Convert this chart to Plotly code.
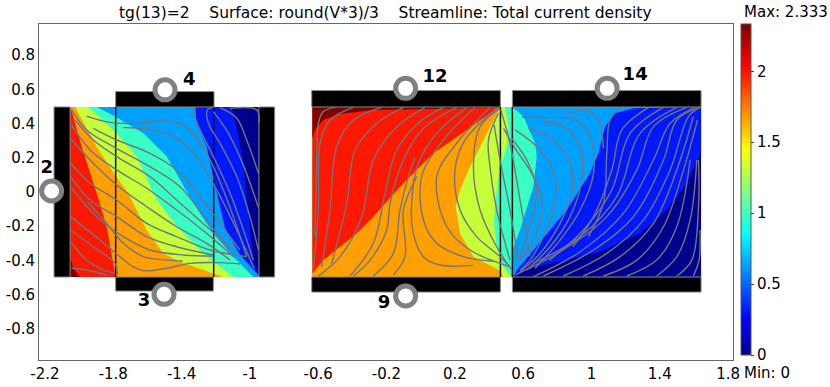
"""
Potential map and streamlines of the two Hall bar devices
"""

import plotly.graph_objects as go

# axis ticks
X_TICKS = [-2.2, -1.8, -1.4, -1, -0.6, -0.2, 0.2, 0.6, 1, 1.4, 1.8]
X_LABELS = ["-2.2", "-1.8", "-1.4", "-1", "-0.6", "-0.2", "0.2", "0.6", "1", "1.4", "1.8"]
Y_TICKS = [-0.8, -0.6, -0.4, -0.2, 0, 0.2, 0.4, 0.6, 0.8]
Y_LABELS = ["-0.8", "-0.6", "-0.4", "-0.2", "0", "0.2", "0.4", "0.6", "0.8"]
BAR_TICKS = [0, 0.5, 1, 1.5, 2]
BAR_LABELS = ["0", "0.5", "1", "1.5", "2"]
V_MIN = 0
V_MAX = 2.333

# level colours of round(V*3)/3
NAVY = "#00008f"
BLUE = "#0018ff"
AZURE = "#00a0ff"
AQUA = "#38ffc4"
LIME = "#c4ff38"
ORANGE = "#ffa000"
RED = "#ff1800"
DARK_RED = "#800000"

JET = [
    [0, "#00008f"], [0.111, "#0000ff"], [0.365, "#00ffff"],
    [0.62, "#ffff00"], [0.873, "#ff0000"], [1, "#800000"],
]

# left device, each level band is closed along the left edge
LEFT_BASE = ([-2.053, -0.947, -0.947, -2.053], [0.497, 0.497, -0.497, -0.497])
LEFT_BLUE = ([-1.107, -1.077, -1.039, -1.019, -1.0, -0.98, -0.947, -2.053, -2.053],
             [0.497, 0.372, 0.177, -0.018, -0.212, -0.407, -0.497, -0.497, 0.497])
LEFT_AZURE = ([-1.321, -1.312, -1.253, -1.214, -1.146, -1.058, -0.95, -0.947, -2.053, -2.053],
              [0.497, 0.402, 0.265, 0.08, -0.21, -0.368, -0.485, -0.497, -0.497, 0.497])
LEFT_AQUA = ([-1.897, -1.79, -1.624, -1.487, -1.331, -1.214, -1.097, -0.98, -2.053, -2.053],
             [0.497, 0.441, 0.343, 0.207, -0.066, -0.242, -0.378, -0.497, -0.497, 0.497])
LEFT_LIME = ([-1.946, -1.79, -1.663, -1.546, -1.409, -1.253, -1.097, -2.053, -2.053],
             [0.497, 0.353, 0.207, -0.047, -0.222, -0.378, -0.497, -0.497, 0.497])
LEFT_ORANGE = ([-2.024, -1.897, -1.79, -1.712, -1.604, -1.507, -1.409, -1.214, -1.156, -2.053, -2.053],
               [0.497, 0.265, 0.099, -0.008, -0.222, -0.359, -0.407, -0.476, -0.497, -0.497, 0.497])
LEFT_RED = ([-2.05, -1.985, -1.897, -1.839, -1.79, -1.784, -2.053, -2.053],
            [0.497, 0.265, -0.008, -0.203, -0.476, -0.497, -0.497, 0.497])
LEFT_DARK = ([-2.053, -2.034, -1.995, -2.053], [-0.378, -0.446, -0.497, -0.497])

# middle and right devices share one field
MAIN_BASE = ([-0.634, 1.642, 1.642, -0.634], [0.497, 0.497, -0.497, -0.497])
MAIN_BLUE = ([1.642, 1.558, 1.441, 1.285, 1.051, 0.816, 0.621, 0.553, 0.537, -0.634, -0.634, 1.642],
             [0.226, 0.051, -0.105, -0.242, -0.349, -0.407, -0.446, -0.485, -0.497, -0.497, 0.497, 0.497])
MAIN_AZURE = ([1.529, 1.246, 1.139, 1.08, 1.041, 0.992, 0.855, 0.66, 0.563, 0.543, -0.634, -0.634],
              [0.497, 0.489, 0.46, 0.382, 0.226, 0.109, -0.105, -0.339, -0.456, -0.497, -0.497, 0.497])
MAIN_AQUA = ([0.537, 0.537, 0.582, 0.66, 0.68, 0.67, 0.602, 0.537, -0.634, -0.634],
             [-0.497, -0.339, -0.222, 0.031, 0.207, 0.285, 0.441, 0.497, 0.497, -0.497])
MAIN_LIME = ([0.494, 0.514, 0.504, 0.465, 0.436, 0.43, 0.445, 0.484, 0.533, -0.634, -0.634],
             [0.497, 0.382, 0.265, 0.148, -0.066, -0.183, -0.32, -0.437, -0.497, -0.497, 0.497])
MAIN_ORANGE = ([0.467, 0.387, 0.289, 0.231, 0.205, 0.231, 0.309, 0.467, 0.484, -0.634, -0.634],
               [0.497, 0.343, 0.148, 0.012, -0.086, -0.242, -0.378, -0.46, -0.497, -0.497, 0.497])
MAIN_RED = ([0.467, 0.406, 0.27, 0.074, -0.121, -0.277, -0.375, -0.57, -0.634, -0.634],
            [0.497, 0.46, 0.363, 0.226, 0.031, -0.144, -0.242, -0.398, -0.476, 0.497])
MAIN_DARK = ([-0.634, -0.619, -0.57, -0.472, -0.277, 0.016, 0.445, 0.467, -0.634],
             [0.314, 0.363, 0.421, 0.456, 0.48, 0.485, 0.493, 0.497, 0.497])

BANDS = [
    (LEFT_BASE, NAVY), (LEFT_BLUE, BLUE), (LEFT_AZURE, AZURE), (LEFT_AQUA, AQUA),
    (LEFT_LIME, LIME), (LEFT_ORANGE, ORANGE), (LEFT_RED, RED), (LEFT_DARK, DARK_RED),
    (MAIN_BASE, NAVY), (MAIN_BLUE, BLUE), (MAIN_AZURE, AZURE), (MAIN_AQUA, AQUA),
    (MAIN_LIME, LIME), (MAIN_ORANGE, ORANGE), (MAIN_RED, RED), (MAIN_DARK, DARK_RED),
]

# black contacts: x0, x1, y0, y1
CONTACTS = [
    (-2.147, -2.053, -0.497, 0.497),
    (-0.947, -0.855, -0.497, 0.497),
    (-1.786, -1.21, 0.497, 0.587),
    (-1.786, -1.214, -0.579, -0.497),
    (-0.638, 0.467, 0.497, 0.593),
    (-0.638, 0.467, -0.585, -0.497),
    (0.537, 1.642, 0.497, 0.593),
    (0.537, 1.642, -0.585, -0.497),
]

# device borders drawn as thin black lines
DIVIDER_X = [-1.786, -1.212, 0.467, 0.537]

# contact rings and their numbers
RING_X = [-2.161, -1.497, -1.503, -0.088, -0.088, 1.092]
RING_Y = [0.006, 0.597, -0.598, 0.606, -0.608, 0.606]
LABEL_TEXT = ["2", "4", "3", "12", "9", "14"]
LABEL_X = [-2.19, -1.355, -1.62, 0.084, -0.214, 1.256]
LABEL_Y = [0.138, 0.651, -0.641, 0.67, -0.651, 0.68]

STREAMLINES_LEFT = [
    ([-1.956, -1.819, -1.644, -1.507, -1.4, -1.312, -1.214, -1.097, -1.019],
     [0.444, 0.407, 0.402, 0.415, 0.398, 0.314, 0.148, -0.144, -0.378]),
    ([-1.741, -1.566, -1.429, -1.312, -1.195, -1.077, -0.976],
     [0.376, 0.363, 0.314, 0.207, 0.012, -0.222, -0.446]),
    ([-1.321, -1.321, -1.292, -1.214, -1.116, -1.038, -0.98],
     [0.497, 0.441, 0.363, 0.207, -0.008, -0.222, -0.398]),
    ([-1.214, -1.249, -1.243, -1.175, -1.077, -1.0, -0.95],
     [0.495, 0.48, 0.402, 0.285, 0.09, -0.144, -0.339]),
    ([-1.214, -1.13, -1.04, -0.95], [0.47, 0.35, 0.16, -0.09]),
    ([-1.175, -1.077, -1.019, -0.95], [0.493, 0.431, 0.304, 0.109]),
    ([-1.116, -0.96, -0.947], [0.489, 0.48, 0.402]),
    ([-2.044, -1.956, -1.8, -1.585, -1.409, -1.253, -1.116],
     [0.48, 0.363, 0.265, 0.148, 0.031, -0.164, -0.339]),
    ([-1.917, -1.78, -1.585, -1.429, -1.292, -1.175, -1.058],
     [0.372, 0.304, 0.226, 0.129, -0.027, -0.183, -0.339]),
    ([-2.024, -1.917, -1.78, -1.585, -1.429, -1.253, -1.097],
     [0.421, 0.304, 0.207, 0.09, -0.047, -0.203, -0.339]),
    ([-2.044, -1.936, -1.78, -1.604, -1.429, -1.253, -1.097],
     [0.392, 0.246, 0.129, 0.022, -0.105, -0.242, -0.378]),
    ([-2.05, -1.936, -1.78, -1.604, -1.429, -1.253, -1.116],
     [0.314, 0.187, 0.041, -0.086, -0.203, -0.3, -0.398]),
    ([-2.05, -1.936, -1.78, -1.604, -1.429, -1.234, -1.019],
     [0.168, 0.051, -0.047, -0.183, -0.261, -0.339, -0.378]),
    ([-2.05, -1.936, -1.78, -1.604, -1.429, -1.214],
     [0.09, -0.047, -0.144, -0.261, -0.32, -0.368]),
    ([-2.05, -1.897, -1.741, -1.585, -1.39, -1.214],
     [0.031, -0.144, -0.261, -0.339, -0.368, -0.374]),
    ([-1.952, -1.839, -1.741, -1.624, -1.487, -1.394],
     [-0.056, -0.183, -0.3, -0.378, -0.398, -0.403]),
    ([-2.05, -1.878, -1.761, -1.683, -1.624, -1.487, -1.351, -1.175, -1.058],
     [-0.144, -0.281, -0.378, -0.437, -0.46, -0.446, -0.417, -0.413, -0.421]),
    ([-2.05, -1.956, -1.878, -1.79], [-0.29, -0.398, -0.446, -0.476]),
    ([-2.05, -1.917, -1.79, -1.776], [-0.222, -0.32, -0.417, -0.485]),
    ([-2.044, -1.956, -1.839], [-0.446, -0.456, -0.485]),
]

STREAMLINES_MIDDLE = [
    ([-0.619, -0.609, -0.599, -0.57, -0.501], [-0.261, 0.187, 0.402, 0.47, 0.495]),
    ([-0.629, -0.599, -0.589, -0.531, -0.394], [-0.456, -0.105, 0.285, 0.421, 0.495]),
    ([-0.58, -0.531, -0.492, -0.394, -0.228], [-0.437, -0.105, 0.265, 0.421, 0.495]),
    ([-0.521, -0.433, -0.384, -0.257, -0.101], [-0.417, -0.066, 0.245, 0.402, 0.495]),
    ([-0.599, -0.472, -0.345, -0.277, -0.14, 0.026], [-0.491, -0.378, -0.144, 0.187, 0.382, 0.495]),
    ([-0.414, -0.277, -0.209, -0.14, -0.004, 0.133], [-0.491, -0.3, -0.008, 0.246, 0.411, 0.495]),
    ([-0.277, -0.16, -0.121, -0.072, -0.033], [-0.491, -0.359, -0.105, 0.09, 0.203]),
    ([-0.16, -0.092, -0.101, -0.023], [-0.485, -0.378, -0.105, 0.09]),
    ([0.211, 0.016, -0.101, -0.179, -0.199, -0.296, -0.394],
     [0.495, 0.372, 0.187, -0.066, -0.222, -0.398, -0.491]),
    ([0.27, 0.094, -0.013, -0.052, -0.043, 0.016, 0.114, 0.305],
     [0.495, 0.343, 0.168, -0.047, -0.242, -0.378, -0.427, -0.429]),
    ([0.319, 0.133, 0.006, 0.016, 0.094, 0.25, 0.426],
     [0.495, 0.304, 0.09, -0.164, -0.3, -0.378, -0.405]),
    ([0.406, 0.211, 0.094, 0.153, 0.289, 0.523], [0.495, 0.285, 0.09, -0.203, -0.339, -0.437]),
    ([0.445, 0.26, 0.201, 0.231, 0.328, 0.465, 0.523],
     [0.489, 0.304, 0.129, -0.105, -0.261, -0.378, -0.437]),
    ([0.465, 0.348, 0.309, 0.348, 0.445, 0.533], [0.489, 0.382, 0.148, -0.105, -0.32, -0.456]),
    ([0.455, 0.397, 0.406, 0.445, 0.523], [0.46, 0.304, 0.148, -0.105, -0.398]),
    ([0.43, 0.465, 0.523, 0.572], [0.392, 0.187, -0.105, -0.398]),
    ([0.469, 0.523, 0.582, 0.64], [0.48, 0.285, -0.047, -0.378]),
]

STREAMLINES_RIGHT = [
    ([0.855, 0.973, 1.041, 1.07], [0.46, 0.476, 0.421, 0.255]),
    ([0.592, 0.758, 0.904, 0.992, 1.012, 0.934, 0.816, 0.67],
     [0.437, 0.435, 0.425, 0.324, 0.109, -0.105, -0.281, -0.446]),
    ([0.723, 0.836, 0.934, 0.943, 0.875, 0.758, 0.621],
     [0.409, 0.382, 0.265, 0.07, -0.144, -0.32, -0.456]),
    ([0.631, 0.777, 0.875, 0.885, 0.816, 0.699, 0.582],
     [0.372, 0.304, 0.168, -0.008, -0.183, -0.359, -0.466]),
    ([0.553, 0.699, 0.787, 0.777, 0.709, 0.641, 0.582],
     [0.363, 0.246, 0.09, -0.105, -0.281, -0.398, -0.456]),
    ([0.485, 0.553, 0.65, 0.709, 0.67, 0.582], [0.372, 0.255, 0.109, -0.047, -0.261, -0.398]),
    ([0.533, 0.631, 0.68, 0.631, 0.582], [0.314, 0.168, -0.008, -0.222, -0.388]),
    ([0.982, 1.07, 1.09, 1.109, 1.172], [-0.261, -0.066, 0.226, 0.421, 0.495]),
    ([0.891, 1.012, 1.119, 1.178, 1.334], [-0.32, -0.144, 0.129, 0.363, 0.495]),
    ([0.754, 0.953, 1.119, 1.226, 1.422], [-0.398, -0.222, 0.012, 0.343, 0.495]),
    ([0.66, 0.934, 1.148, 1.285, 1.5], [-0.417, -0.261, -0.027, 0.343, 0.495]),
    ([0.553, 0.816, 1.09, 1.266, 1.363, 1.558], [-0.485, -0.349, -0.144, 0.129, 0.382, 0.495]),
    ([0.66, 0.934, 1.187, 1.363, 1.461, 1.607], [-0.495, -0.349, -0.125, 0.187, 0.402, 0.495]),
    ([0.719, 1.012, 1.246, 1.422, 1.5, 1.636], [-0.491, -0.339, -0.144, 0.187, 0.421, 0.495]),
    ([0.836, 1.09, 1.304, 1.461, 1.568, 1.636], [-0.491, -0.359, -0.164, 0.129, 0.441, 0.495]),
    ([0.953, 1.168, 1.363, 1.5, 1.597], [-0.491, -0.378, -0.183, 0.129, 0.441]),
    ([1.07, 1.266, 1.422, 1.539, 1.621], [-0.491, -0.398, -0.203, 0.129, 0.421]),
    ([1.207, 1.382, 1.5, 1.578], [-0.491, -0.398, -0.203, 0.187]),
    ([1.382, 1.5, 1.578, 1.617], [-0.491, -0.378, -0.164, 0.187]),
    ([1.5, 1.588, 1.627, 1.627], [-0.491, -0.398, -0.086, 0.187]),
    ([1.597, 1.63, 1.636], [-0.491, -0.398, -0.222]),
]

FONT = "DejaVu Sans"
GRAY = "#74747e"
TITLE = "tg(13)=2\u00a0\u00a0\u00a0\u00a0Surface: round(V*3)/3\u00a0\u00a0\u00a0\u00a0Streamline: Total current density"

fig = go.Figure()

# level bands, painted from low to high
for (xs, ys), color in BANDS:
    fig.add_trace(go.Scatter(
        x=xs, y=ys, mode="lines", fill="toself", fillcolor=color,
        line=dict(width=0), hoverinfo="skip", showlegend=False,
    ))

for x0, x1, y0, y1 in CONTACTS:
    fig.add_trace(go.Scatter(
        x=[x0, x1, x1, x0, x0], y=[y0, y0, y1, y1, y0], mode="lines", fill="toself",
        fillcolor="black", line=dict(width=1, color="#8a8a8a"), hoverinfo="skip", showlegend=False,
    ))

for x in DIVIDER_X:
    fig.add_trace(go.Scatter(
        x=[x, x], y=[-0.497, 0.497], mode="lines",
        line=dict(width=1.5, color="#101010"), hoverinfo="skip", showlegend=False,
    ))

for xs, ys in STREAMLINES_LEFT + STREAMLINES_MIDDLE + STREAMLINES_RIGHT:
    fig.add_trace(go.Scatter(
        x=xs, y=ys, mode="lines", line=dict(width=1.4, color=GRAY, shape="spline", smoothing=1),
        hoverinfo="skip", showlegend=False,
    ))

fig.add_trace(go.Scatter(
    x=RING_X, y=RING_Y, mode="markers",
    marker=dict(size=20, color="white", line=dict(width=5, color="#808080")),
    hoverinfo="skip", showlegend=False,
))

fig.add_trace(go.Scatter(
    x=LABEL_X, y=LABEL_Y, mode="text", text=LABEL_TEXT,
    textfont=dict(family=FONT, size=18, color="black", weight="bold"),
    hoverinfo="skip", showlegend=False,
))

# only here to get the colour bar
fig.add_trace(go.Scatter(
    x=[None], y=[None], mode="markers", showlegend=False,
    marker=dict(
        colorscale=JET, cmin=V_MIN, cmax=V_MAX, color=[V_MIN], showscale=True,
        colorbar=dict(
            x=1.0115, xanchor="left", xpad=0, y=1, yanchor="top", ypad=0,
            len=0.985, lenmode="fraction", thickness=10, outlinecolor="#555555", outlinewidth=1,
            tickvals=BAR_TICKS, ticktext=BAR_LABELS, ticks="outside", ticklen=3,
            tickfont=dict(family=FONT, size=15, color="black"),
        ),
    ),
))

fig.add_annotation(x=1.013, y=1.036, xref="paper", yref="paper", xanchor="left", yanchor="middle",
                   showarrow=False, text="Max: 2.333", font=dict(family=FONT, size=15, color="black"))
fig.add_annotation(x=1.013, y=-0.039, xref="paper", yref="paper", xanchor="left", yanchor="middle",
                   showarrow=False, text="Min: 0", font=dict(family=FONT, size=15, color="black"))
fig.add_annotation(x=0.4986, y=1.033, xref="paper", yref="paper", yanchor="middle", showarrow=False,
                   text=TITLE, font=dict(family=FONT, size=15.5, color="black"))

axis_style = dict(
    showgrid=False, zeroline=False, showline=True, mirror=True, linecolor="#666666", linewidth=1,
    ticks="", automargin=False, tickfont=dict(family=FONT, size=15, color="black"),
)
fig.update_xaxes(range=[-2.235, 1.829], tickvals=X_TICKS, ticktext=X_LABELS, **axis_style)
fig.update_yaxes(range=[-0.982, 0.982], tickvals=Y_TICKS, ticktext=Y_LABELS, **axis_style)

fig.update_layout(
    width=830, height=387, margin=dict(l=39, r=97, t=24, b=27, autoexpand=False),
    plot_bgcolor="white", paper_bgcolor="white", showlegend=False,
)

# the page's default body margin would push the figure off the window
fig.write_html(
    "out.html",
    config=dict(displayModeBar=False),
    post_script="document.body.style.margin='0';document.body.style.overflow='hidden';",
)
